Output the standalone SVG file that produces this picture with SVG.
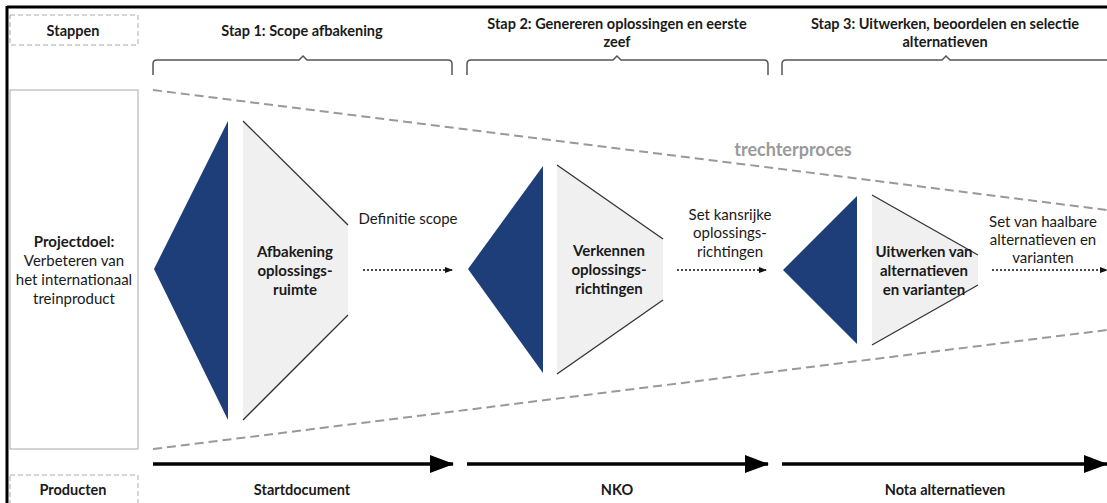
<svg xmlns="http://www.w3.org/2000/svg" width="1107" height="503" viewBox="0 0 1107 503">
<style>
  text { font-family: Lato, "Liberation Sans", sans-serif; fill: #1a1a1a; }
  .h { font-size: 14.5px; font-weight: bold; text-anchor: middle; }
  .b { font-size: 15px; font-weight: bold; text-anchor: middle; }
  .p { font-size: 15px; text-anchor: middle; }
  .r { font-size: 15px; text-anchor: middle; }
  .lbl { fill: none; stroke: #aaa; stroke-width: 1; stroke-dasharray: 5 3; }
  .brace { fill: none; stroke: #555; stroke-width: 1.5; }
  .blue { fill: #1d3e78; }
  .grey { fill: #f0f0f0; }
  .edge { fill: none; stroke: #333; stroke-width: 1.3; }
  .funnel { fill: none; stroke: #999; stroke-width: 2; stroke-dasharray: 9 5; }
  .dot { fill: none; stroke: #111; stroke-width: 1.5; stroke-dasharray: 2 2; }
  .thick { fill: none; stroke: #000; stroke-width: 3.5; }
</style>
<defs>
  <marker id="sm" markerWidth="8" markerHeight="8" refX="7" refY="4" orient="auto" markerUnits="userSpaceOnUse">
    <path d="M0,1 L8,4 L0,7 Z" fill="#111"/>
  </marker>
  <marker id="big" markerWidth="24" markerHeight="18" refX="23" refY="9" orient="auto" markerUnits="userSpaceOnUse">
    <path d="M0,0 L24,9 L0,18 Z" fill="#000"/>
  </marker>
</defs>
<rect x="0" y="0" width="1107" height="503" fill="#fff"/>
<!-- frame -->
<line x1="7" y1="7" x2="1107" y2="7" stroke="#000" stroke-width="3"/>
<line x1="7" y1="6" x2="7" y2="503" stroke="#000" stroke-width="3"/>

<g id="stappen">
  <rect class="lbl" x="10" y="15" width="128" height="30"/>
  <text class="h" x="73" y="36">Stappen</text>
</g>
<g id="stap1">
  <text class="h" x="302" y="36">Stap 1: Scope afbakening</text>
  <path class="brace" d="M153,75 L153,64 Q153,60 157,60 L299,60 L303,56 L307,60 L448,60 Q452,60 452,64 L452,75"/>
</g>
<g id="stap2">
  <text class="h" x="617" y="29">Stap 2: Genereren oplossingen en eerste</text>
  <text class="h" x="617" y="47">zeef</text>
  <path class="brace" d="M467,75 L467,64 Q467,60 471,60 L613,60 L617,56 L621,60 L764,60 Q768,60 768,64 L768,75"/>
</g>
<g id="stap3">
  <text class="h" x="945" y="29">Stap 3: Uitwerken, beoordelen en selectie</text>
  <text class="h" x="945" y="47">alternatieven</text>
  <path class="brace" d="M782,75 L782,64 Q782,60 786,60 L942,60 L946,56 L950,60 L1107,60"/>
</g>

<g id="projectdoel">
  <rect x="10" y="90" width="128" height="359" fill="#fff" stroke="#aaa" stroke-width="1"/>
  <text class="b" x="74" y="247">Projectdoel:</text>
  <text class="p" x="74" y="266">Verbeteren van</text>
  <text class="p" x="74" y="285">het internationaal</text>
  <text class="p" x="74" y="304">treinproduct</text>
</g>

<g id="trechter">
  <line class="funnel" x1="153" y1="90" x2="1107" y2="210"/>
  <line class="funnel" x1="153" y1="449" x2="1107" y2="330"/>
  <text x="793" y="156" style="font-size:18px;font-weight:bold;fill:#9a9a9a;text-anchor:middle">trechterproces</text>
</g>

<g id="afbakening">
  <polygon class="blue" points="154,269 228,121 228,420"/>
  <polygon class="grey" points="243,121 348,225 348,315 243,420"/>
  <polyline class="edge" points="243,121 348,225"/>
  <polyline class="edge" points="348,315 243,420"/>
  <text class="b" x="295" y="257">Afbakening</text>
  <text class="b" x="295" y="276">oplossings-</text>
  <text class="b" x="295" y="295">ruimte</text>
</g>

<g id="verkennen">
  <polygon class="blue" points="468,269 543,166 543,373"/>
  <polygon class="grey" points="557,165 663,239 663,300 557,374"/>
  <polyline class="edge" points="557,165 663,239"/>
  <polyline class="edge" points="663,300 557,374"/>
  <text class="b" x="609" y="256">Verkennen</text>
  <text class="b" x="609" y="275">oplossings-</text>
  <text class="b" x="609" y="294">richtingen</text>
</g>

<g id="uitwerken">
  <polygon class="blue" points="783,270 857,196 857,344"/>
  <polygon class="grey" points="872,195 978,255 978,285 872,345"/>
  <polyline class="edge" points="872,195 978,255"/>
  <polyline class="edge" points="978,285 872,345"/>
  <text class="b" x="924" y="257">Uitwerken van</text>
  <text class="b" x="924" y="276">alternatieven</text>
  <text class="b" x="924" y="295">en varianten</text>
</g>

<g id="connectors">
  <line class="dot" x1="363" y1="270" x2="452" y2="270" marker-end="url(#sm)"/>
  <line class="dot" x1="677" y1="270" x2="766" y2="270" marker-end="url(#sm)"/>
  <line class="dot" x1="992" y1="270" x2="1107" y2="270" marker-end="url(#sm)"/>
  <text class="r" x="408" y="224">Definitie scope</text>
  <text class="r" x="730" y="220">Set kansrijke</text>
  <text class="r" x="730" y="238">oplossings-</text>
  <text class="r" x="730" y="257">richtingen</text>
  <text class="r" x="1043" y="227">Set van haalbare</text>
  <text class="r" x="1043" y="245">alternatieven en</text>
  <text class="r" x="1043" y="263">varianten</text>

  <line class="thick" x1="153" y1="464" x2="453" y2="464" marker-end="url(#big)"/>
  <line class="thick" x1="467" y1="464" x2="768" y2="464" marker-end="url(#big)"/>
  <line class="thick" x1="782" y1="464" x2="1107" y2="464" marker-end="url(#big)"/>
</g>

<g id="producten">
  <rect class="lbl" x="10" y="475" width="128" height="35"/>
  <text class="h" x="73" y="495">Producten</text>
  <text class="h" x="302" y="495">Startdocument</text>
  <text class="h" x="617" y="495">NKO</text>
  <text class="h" x="945" y="495">Nota alternatieven</text>
</g>
</svg>
